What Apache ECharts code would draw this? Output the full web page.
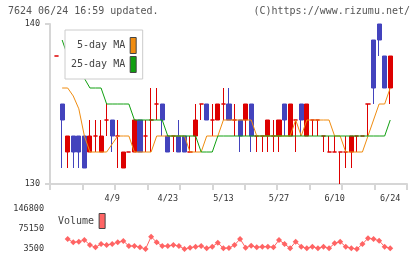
<!DOCTYPE html>
<html>
<head>
<meta charset="utf-8">
<title>7624</title>
<script src="https://cdn.jsdelivr.net/npm/echarts@6.0.0/dist/echarts.min.js"></script>
<style>
html, body { margin: 0; padding: 0; background: #fff; }
#chart { width: 420px; height: 259px; }
</style>
</head>
<body>
<div id="chart"></div>
<script>
// trading days shown on the chart
var dates = ['3/26','3/27','3/28','3/29','4/1','4/2','4/3','4/4','4/5','4/8',
    '4/9','4/10','4/11','4/12','4/15','4/16','4/17','4/18','4/19','4/22',
    '4/23','4/25','4/26','4/30','5/1','5/2','5/7','5/8','5/9','5/10',
    '5/13','5/14','5/15','5/16','5/17','5/20','5/21','5/22','5/23','5/24',
    '5/27','5/28','5/29','5/30','5/31','6/3','6/4','6/5','6/6','6/7',
    '6/10','6/11','6/12','6/13','6/14','6/17','6/18','6/19','6/20','6/21',
    '6/24'];
var labelDates = ['4/9', '4/23', '5/13', '5/27', '6/10', '6/24'];

var opens = [138,135,132,133,133,133,132,133,132,134,
    134,133,131,132,132,134,133,134,135,135,
    133,133,133,133,132,133,135,135,134,134,
    135,135,134,134,134,135,133,133,133,133,
    133,135,133,134,135,133,134,134,133,132,
    132,132,132,132,133,133,135,139,140,138,
    136];
var closes = [138,134,133,132,132,131,133,133,133,134,
    133,133,132,132,134,132,133,134,135,134,
    132,133,132,132,132,134,135,134,134,135,
    135,134,134,133,135,133,133,133,134,133,
    134,134,135,134,134,135,134,134,133,132,
    132,132,132,133,133,133,135,136,139,136,
    138];
var lows = [138,131,131,131,131,131,132,132,132,133,
    132,131,131,132,132,132,132,132,134,133,
    132,132,132,132,132,132,134,134,133,134,
    134,134,133,132,133,132,132,132,132,132,
    132,133,133,132,133,133,133,133,132,132,
    132,130,131,131,132,133,133,135,138,136,
    135];
var highs = [138,135,133,133,133,133,134,134,134,135,
    134,134,132,132,134,134,134,136,136,135,
    133,133,134,133,133,135,135,135,135,135,
    136,136,135,134,135,135,133,133,134,134,
    134,135,135,134,135,135,134,134,133,133,
    133,132,133,133,133,133,135,139,140,138,
    138];

var ma5 = ['-',136,136,135.5,134.7,133,132,132,132,132,
    132.5,133,133,133,132,132,132,132,133,133,
    133,133,133,133,132,132,132,133,133,133,
    134,134,134,134,134,134,133,133,133,133,
    133,133,133,134,133,134,134,134,134,134,
    133,133,132,132,132,132,133,134,135,135,
    136];
var ma25 = ['-',139,138,137.5,137,136.6,136,136,136,135,
    135,135,135,135,134,134,134,134,134,134,
    133,133,133,133,133,133,132,132,132,133,
    133,133,133,133,133,133,133,133,133,133,
    133,133,133,133,133,133,133,133,133,133,
    133,133,133,133,133,133,133,133,133,133,
    134];

var volumes = ['-','-',39300,27500,29600,35700,17800,9600,21400,17800,
    21400,27500,32200,14200,14200,9600,3500,47600,27500,14200,
    14200,17800,14200,3500,8200,11700,14200,6000,11700,26000,
    6000,7100,17800,39300,8200,15300,9600,11700,11700,9600,
    35700,21400,6000,29600,11700,6000,11700,6000,11700,6000,
    23900,29600,11700,6000,3500,21400,41800,39300,33200,11700,
    6000];
var volumeTicks = [3500, 75150, 146800];

var candles = [];
for (var i = 0; i < dates.length; i++) {
    candles.push([opens[i], closes[i], lows[i], highs[i]]);
}

var mono = 'DejaVu Sans Mono';
var red = '#dd0000', blue = '#4343bd', axisGray = '#d6d6d6';
var textNorm = { fontFamily: mono, fontSize: 10, color: '#444' };

var chart = echarts.init(document.getElementById('chart'));
chart.setOption({
    animation: false,
    backgroundColor: '#fff',
    title: [
        { text: '7624 06/24 16:59 updated.', left: 8, top: 6, padding: 0,
          textStyle: { fontFamily: mono, fontSize: 10, fontWeight: 'normal', color: '#555' } },
        { text: '(C)https://www.rizumu.net/', right: 10, top: 6, padding: 0,
          textStyle: { fontFamily: mono, fontSize: 10, fontWeight: 'normal', color: '#555' } }
    ],
    legend: [{
        data: ['5-day MA', '25-day MA'],
        orient: 'vertical', align: 'right', left: 65, top: 30,
        padding: [7, 6, 6, 6], itemGap: 2, itemWidth: 6, itemHeight: 16,
        icon: 'rect', backgroundColor: '#fff', borderColor: '#ccc', borderWidth: 1,
        itemStyle: { borderColor: '#444', borderWidth: 1 },
        textStyle: textNorm, selectedMode: false
    }, {
        data: ['Volume'],
        align: 'right', left: 58, top: 213, padding: 0,
        itemWidth: 6, itemHeight: 15, icon: 'rect',
        itemStyle: { borderColor: '#444', borderWidth: 1 },
        textStyle: textNorm, selectedMode: false
    }],
    grid: [
        { left: 50, top: 24, width: 357, height: 160 },
        { left: 53.8, top: 24, width: 339.2, height: 160 },
        { left: 53.8, top: 209, width: 339.2, height: 40 }
    ],
    xAxis: [{
        gridIndex: 0, type: 'value', min: 0, max: 11, interval: 1,
        axisLine: { onZero: false, lineStyle: { color: axisGray, width: 2 } },
        axisTick: { show: true, length: 6, lineStyle: { color: axisGray, width: 2 } },
        axisLabel: { show: false }, splitLine: { show: false }
    }, {
        gridIndex: 1, type: 'category', data: dates, boundaryGap: true,
        axisLine: { show: false }, axisTick: { show: false }, splitLine: { show: false },
        axisLabel: {
            interval: function (idx, v) { return labelDates.indexOf(v) >= 0; },
            margin: 10, fontFamily: mono, fontSize: 8.5, color: '#333'
        }
    }, {
        gridIndex: 2, type: 'category', data: dates, boundaryGap: true, show: false
    }],
    yAxis: [{
        gridIndex: 0, type: 'value', min: 130, max: 140, interval: 10,
        axisLine: { show: true, onZero: false, lineStyle: { color: axisGray, width: 2 } },
        axisTick: { show: true, length: 5, lineStyle: { color: axisGray, width: 2 } },
        axisLabel: { margin: 10, fontFamily: mono, fontSize: 8.5, color: '#333' },
        splitLine: { show: false }
    }, {
        gridIndex: 1, type: 'value', min: 130, max: 140, show: false
    }, {
        gridIndex: 2, type: 'value', min: 3500, max: 146800,
        axisLine: { show: false }, axisTick: { show: false }, splitLine: { show: false },
        axisLabel: {
            customValues: volumeTicks, margin: 9.8,
            formatter: function (v) { return String(v); },
            fontFamily: mono, fontSize: 8.5, color: '#333'
        }
    }],
    series: [{
        name: '5-day MA', type: 'line', xAxisIndex: 1, yAxisIndex: 1, data: ma5,
        showSymbol: false, lineStyle: { color: '#f08c10', width: 1 }, itemStyle: { color: '#f08c10' }
    }, {
        name: '25-day MA', type: 'line', xAxisIndex: 1, yAxisIndex: 1, data: ma25,
        showSymbol: false, lineStyle: { color: '#10a010', width: 1 }, itemStyle: { color: '#10a010' }
    }, {
        name: 'price', type: 'candlestick', xAxisIndex: 1, yAxisIndex: 1, data: candles,
        barWidth: 4.6,
        itemStyle: { color: red, color0: blue, borderColor: red, borderColor0: blue,
                     borderColorDoji: red, borderWidth: 1 }
    }, {
        name: 'Volume', type: 'line', xAxisIndex: 2, yAxisIndex: 2, data: volumes,
        symbol: 'diamond', symbolSize: 6, showAllSymbol: true,
        lineStyle: { color: '#ff6464', width: 1 }, itemStyle: { color: '#ff6464' }
    }]
});
</script>
</body>
</html>
